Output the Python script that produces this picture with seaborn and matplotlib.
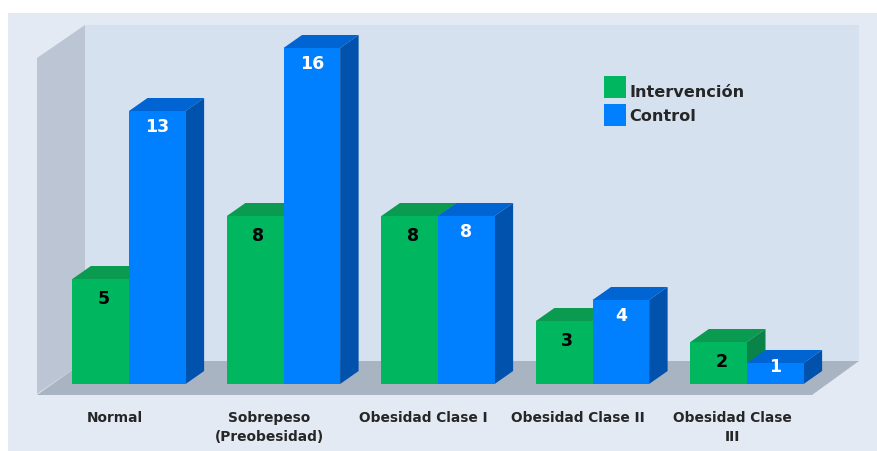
import matplotlib
matplotlib.use("Agg")
import matplotlib.pyplot as plt
from matplotlib.patches import Polygon
import pandas as pd
import seaborn as sns

categorias = ["Normal", "Sobrepeso\n(Preobesidad)", "Obesidad Clase I", "Obesidad Clase II", "Obesidad Clase\nIII"]
intervencion = [5, 8, 8, 3, 2]
control = [13, 16, 8, 4, 1]
grupos = ["Intervención", "Control"]

W, H = 878, 451
sns.set_theme(style="white")
plt.rcParams["font.family"] = ["DejaVu Sans"]

df = pd.DataFrame({
    "categoria": categorias * 2,
    "valor": intervencion + control,
    "grupo": [grupos[0]] * 5 + [grupos[1]] * 5,
})

fig = plt.figure(figsize=(W / 100, H / 100), dpi=100, facecolor="white")


def px(points):
    return [(x / W, 1 - y / H) for x, y in points]


def backdrop(points, color, z):
    fig.add_artist(Polygon(px(points), closed=True, transform=fig.transFigure,
                           facecolor=color, edgecolor="none", zorder=z))


backdrop([(8, 13), (878, 13), (878, 451), (8, 451)], "#e3eaf4", -10)
backdrop([(85, 25), (859, 25), (859, 361), (85, 361)], "#d6e1ef", -9)
backdrop([(37, 58), (85, 25), (85, 361), (37, 394)], "#bcc5d3", -8)
backdrop([(37, 395), (85, 361), (859, 361), (812, 395)], "#a9b4c2", -7)

left, right, bottom, top = 51.75, 824.25, 384, 48
ax = fig.add_axes([left / W, 1 - bottom / H, (right - left) / W, (bottom - top) / H])
ax.patch.set_visible(False)

palette = {grupos[0]: "#00b75f", grupos[1]: "#0080ff"}
sns.barplot(data=df, x="categoria", y="valor", hue="grupo", palette=palette,
            width=0.733, gap=0, saturation=1, dodge=True, ax=ax)

ax.set_xlim(-0.5, 4.5)
ax.set_ylim(0, 16)

px_per_cat = (right - left) / 5
px_per_val = (bottom - top) / 16
dx = 18.5 / px_per_cat
dy = 13 / px_per_val

shades = [("#0a9a50", "#0a8348"), ("#0065d2", "#0052ac")]
for i, container in enumerate(ax.containers):
    top_c, side_c = shades[i]
    z = 3 + i
    for bar in container:
        x0, x1 = bar.get_x(), bar.get_x() + bar.get_width()
        h = bar.get_height()
        bar.set_zorder(z + 0.5)
        bar.set_linewidth(0)
        ax.add_patch(Polygon([(x0, h), (x1, h), (x1 + dx, h + dy), (x0 + dx, h + dy)],
                             closed=True, facecolor=top_c, edgecolor="none", zorder=z, clip_on=False))
        ax.add_patch(Polygon([(x1, 0), (x1, h), (x1 + dx, h + dy), (x1 + dx, dy)],
                             closed=True, facecolor=side_c, edgecolor="none", zorder=z, clip_on=False))
        below = 20 if i == 0 else (16 if h > 1 else 3.5)
        shift = 3 if i == 0 else 0
        ax.annotate(f"{h:.0f}", (bar.get_x() + bar.get_width() / 2, h),
                    xytext=(shift * 0.72, -below * 0.72), textcoords="offset points",
                    ha="center", va="center", fontsize=12.5, fontweight="bold",
                    color="black" if i == 0 else "white", zorder=10)

sns.despine(ax=ax, left=True, bottom=True)
ax.set_xlabel("")
ax.set_ylabel("")
ax.set_yticks([])
ax.set_xticks([k - 14.5 / px_per_cat for k in range(5)])
ax.set_xticklabels(categorias, fontsize=9.9, fontweight="bold", color="#262626", linespacing=1.45)
ax.tick_params(axis="x", length=0, pad=19.5)

handles, labels = ax.get_legend_handles_labels()
for hd in handles:
    hd.set_linewidth(0)
leg = ax.legend(handles, labels, loc="upper left", frameon=False,
                bbox_to_anchor=(604 / W, 1 - 76 / H), bbox_transform=fig.transFigure,
                borderaxespad=0, borderpad=0, handlelength=1.365, handleheight=1.72,
                handletextpad=0.2, labelspacing=0.37,
                prop={"size": 11.6, "weight": "bold"})
for hd in leg.legend_handles:
    hd.set_linewidth(0)
for t, drop in zip(leg.get_texts(), [-5, -1]):
    t.set_color("#262626")
    t.set_y(drop)

fig.savefig("out.png", dpi=100)
